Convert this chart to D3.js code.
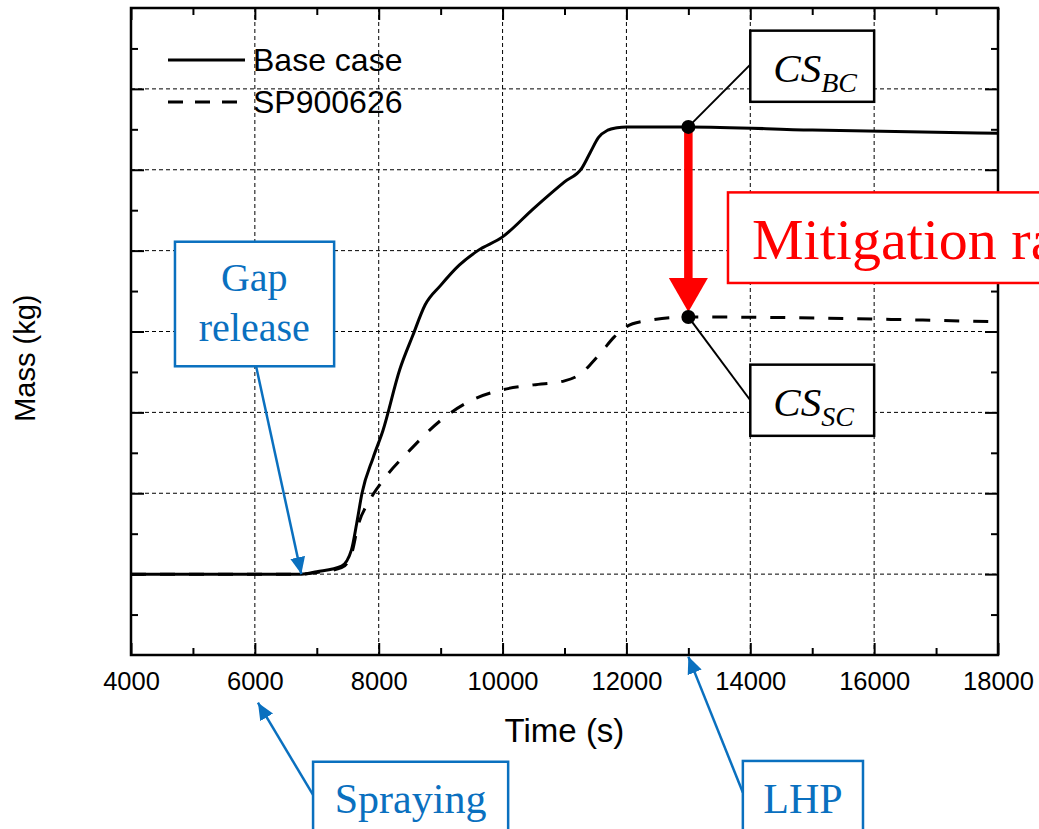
<!DOCTYPE html>
<html>
<head>
<meta charset="utf-8">
<script src="https://cdn.jsdelivr.net/npm/d3@7"></script>
<style>
  body { margin: 0; background: #fff; overflow: hidden; }
  svg { display: block; }
</style>
</head>
<body>
<svg id="chart" width="1039" height="829"></svg>
<script>
// values (mass has no labelled scale, so it is in grid units)
const timeBase = [4000, 6750, 7000, 7400, 7560, 7645, 7730, 7910, 8070, 8340, 8550, 8750, 9000, 9300, 9600, 10000, 10500, 11000, 11280, 11420, 11550, 11700, 11850, 12000, 12500, 13000, 15000, 18000];
const massBase = [1.0, 1.0, 1.03, 1.1, 1.30, 1.63, 2.0, 2.44, 2.78, 3.53, 3.95, 4.33, 4.57, 4.82, 5.0, 5.17, 5.52, 5.85, 6.02, 6.22, 6.40, 6.49, 6.52, 6.53, 6.53, 6.53, 6.49, 6.45];

const timeSP = [4000, 6750, 7000, 7400, 7500, 7580, 7650, 7860, 8070, 8500, 9000, 9500, 10000, 10500, 11000, 11300, 11450, 11600, 11800, 12000, 12300, 13000, 18000];
const massSP = [1.0, 1.0, 1.02, 1.08, 1.15, 1.30, 1.55, 1.92, 2.16, 2.53, 2.9, 3.15, 3.28, 3.34, 3.39, 3.5, 3.62, 3.75, 3.93, 4.06, 4.13, 4.18, 4.12];

const seriesNames = ['Base case', 'SP900626'];
const xTicks = [4000, 6000, 8000, 10000, 12000, 14000, 16000, 18000];
const xMinorTicks = [5000, 7000, 9000, 11000, 13000, 15000, 17000];
const yTicks = [1, 2, 3, 4, 5, 6, 7];
const yMinorTicks = [0.5, 1.5, 2.5, 3.5, 4.5, 5.5, 6.5, 7.5];

// the two compared states at t = 13000 s
const csTime = 13000;
const csBase = 6.53;
const csSP = 4.18;

const margin = { top: 8, right: 41, bottom: 174, left: 131 };
const W = 1039, H = 829;
const width = W - margin.left - margin.right;
const height = H - margin.top - margin.bottom;

const sans = '"Liberation Sans", Arial, sans-serif';
const serif = '"Liberation Serif", "Times New Roman", serif';
const blue = '#0a70bf';
const red = '#ff0000';

const svg = d3.select('#chart');

const x = d3.scaleLinear().domain([4000, 18000]).range([0, width]);
const y = d3.scaleLinear().domain([0, 8]).range([height, 0]);

const chart = svg.append('g')
  .attr('transform', `translate(${margin.left}, ${margin.top})`);

// grid
chart.append('g').selectAll('line')
  .data(xTicks.slice(1, -1))
  .join('line')
  .attr('x1', d => x(d)).attr('x2', d => x(d))
  .attr('y1', 0).attr('y2', height)
  .attr('stroke', '#000').attr('stroke-width', 1)
  .attr('stroke-dasharray', '4,3');

chart.append('g').selectAll('line')
  .data(yTicks)
  .join('line')
  .attr('x1', 0).attr('x2', width)
  .attr('y1', d => y(d)).attr('y2', d => y(d))
  .attr('stroke', '#000').attr('stroke-width', 1)
  .attr('stroke-dasharray', '4,3');

// curves
const line = d3.line()
  .x(d => x(d[0]))
  .y(d => y(d[1]))
  .curve(d3.curveMonotoneX);

chart.append('path')
  .datum(d3.zip(timeBase, massBase))
  .attr('fill', 'none')
  .attr('stroke', '#000')
  .attr('stroke-width', 3)
  .attr('d', line);

chart.append('path')
  .datum(d3.zip(timeSP, massSP))
  .attr('fill', 'none')
  .attr('stroke', '#000')
  .attr('stroke-width', 3)
  .attr('stroke-dasharray', '15,14')
  .attr('d', line);

// legend
const legend = chart.append('g').attr('transform', 'translate(37, 52)');
seriesNames.forEach((name, i) => {
  legend.append('line')
    .attr('x1', 0).attr('x2', 77)
    .attr('y1', i * 42).attr('y2', i * 42)
    .attr('stroke', '#000').attr('stroke-width', 3)
    .attr('stroke-dasharray', i ? '15,12' : null);
  legend.append('text')
    .attr('x', 85).attr('y', i * 42 + 11)
    .attr('font-family', sans).attr('font-size', 32)
    .text(name);
});

// axes: ticks point inward on all four sides
function styleAxis(g) {
  g.select('.domain').remove();
  g.selectAll('.tick line').attr('stroke', '#000').attr('stroke-width', 2);
}

chart.append('g')
  .attr('transform', `translate(0, ${height})`)
  .call(d3.axisBottom(x).tickValues(xTicks).tickSize(-12).tickPadding(17).tickFormat(d3.format('d')))
  .call(styleAxis)
  .call(g => g.selectAll('text').attr('font-family', sans).attr('font-size', 25.5).attr('fill', '#000'));

chart.append('g')
  .attr('transform', `translate(0, ${height})`)
  .call(d3.axisBottom(x).tickValues(xMinorTicks).tickSize(-7).tickFormat(''))
  .call(styleAxis);

chart.append('g')
  .call(d3.axisTop(x).tickValues(xTicks).tickSize(-12).tickFormat(''))
  .call(styleAxis);

chart.append('g')
  .call(d3.axisTop(x).tickValues(xMinorTicks).tickSize(-7).tickFormat(''))
  .call(styleAxis);

chart.append('g')
  .call(d3.axisLeft(y).tickValues(yTicks).tickSize(-13).tickFormat(''))
  .call(styleAxis);

chart.append('g')
  .call(d3.axisLeft(y).tickValues(yMinorTicks).tickSize(-7).tickFormat(''))
  .call(styleAxis);

chart.append('g')
  .attr('transform', `translate(${width}, 0)`)
  .call(d3.axisRight(y).tickValues(yTicks).tickSize(-13).tickFormat(''))
  .call(styleAxis);

chart.append('g')
  .attr('transform', `translate(${width}, 0)`)
  .call(d3.axisRight(y).tickValues(yMinorTicks).tickSize(-7).tickFormat(''))
  .call(styleAxis);

chart.append('rect')
  .attr('width', width).attr('height', height)
  .attr('fill', 'none').attr('stroke', '#000').attr('stroke-width', 2.5);

// axis titles
chart.append('text')
  .attr('x', x(11000)).attr('y', height + 87)
  .attr('text-anchor', 'middle')
  .attr('font-family', sans).attr('font-size', 33)
  .text('Time (s)');

chart.append('text')
  .attr('transform', `translate(${-96}, ${y(3.67)}) rotate(-90)`)
  .attr('text-anchor', 'middle')
  .attr('font-family', sans).attr('font-size', 29)
  .text('Mass (kg)');

// annotations
const defs = svg.append('defs');
defs.append('marker')
  .attr('id', 'blueHead')
  .attr('markerUnits', 'userSpaceOnUse')
  .attr('viewBox', '0 0 17 15')
  .attr('markerWidth', 17).attr('markerHeight', 15)
  .attr('refX', 17).attr('refY', 7.5)
  .attr('orient', 'auto')
  .append('path')
  .attr('d', 'M0,0 L17,7.5 L0,15 Z')
  .attr('fill', blue);

const note = chart.append('g');

function box(x0, y0, x1, y1, color) {
  note.append('rect')
    .attr('x', x(x0)).attr('y', y(y0))
    .attr('width', x(x1) - x(x0)).attr('height', y(y1) - y(y0))
    .attr('fill', '#fff').attr('stroke', color).attr('stroke-width', 2.5);
}

function blueArrow(x0, y0, x1, y1) {
  note.append('line')
    .attr('x1', x(x0)).attr('y1', y(y0))
    .attr('x2', x(x1)).attr('y2', y(y1))
    .attr('stroke', blue).attr('stroke-width', 2.5)
    .attr('marker-end', 'url(#blueHead)');
}

// Gap release
box(4710, 5.11, 7280, 3.57, blue);
note.append('text')
  .attr('x', x(5990)).attr('y', y(3.55) - 77)
  .attr('text-anchor', 'middle')
  .attr('font-family', serif).attr('font-size', 40).attr('fill', blue)
  .text('Gap');
note.append('text')
  .attr('x', x(5990)).attr('y', y(3.55) - 27)
  .attr('text-anchor', 'middle')
  .attr('font-family', serif).attr('font-size', 40).attr('fill', blue)
  .text('release');
blueArrow(6020, 3.57, 6750, 1.0);

// Spraying
box(6940, -1.32, 10090, -2.3, blue);
note.append('text')
  .attr('x', x(8515)).attr('y', y(-1.32) + 51)
  .attr('text-anchor', 'middle')
  .attr('font-family', serif).attr('font-size', 42).attr('fill', blue)
  .text('Spraying');
blueArrow(6940, -1.73, 6050, -0.59);

// LHP
box(13880, -1.31, 15820, -2.3, blue);
note.append('text')
  .attr('x', x(14850)).attr('y', y(-1.31) + 52)
  .attr('text-anchor', 'middle')
  .attr('font-family', serif).attr('font-size', 42).attr('fill', blue)
  .text('LHP');
blueArrow(13880, -1.70, 13000, -0.02);

// red mitigation arrow
const headBase = y(csSP) - 39;
const tip = y(csSP) - 5;
note.append('line')
  .attr('x1', x(csTime)).attr('x2', x(csTime))
  .attr('y1', y(csBase)).attr('y2', headBase + 1)
  .attr('stroke', red).attr('stroke-width', 8.5);
note.append('path')
  .attr('d', `M${x(csTime) - 19.5},${headBase} L${x(csTime) + 19.5},${headBase} L${x(csTime)},${tip} Z`)
  .attr('fill', red);

// mitigation ratio box (runs off the right edge, as in the source figure)
note.append('rect')
  .attr('x', x(13640)).attr('y', y(5.72))
  .attr('width', 400).attr('height', y(4.6) - y(5.72))
  .attr('fill', '#fff').attr('stroke', red).attr('stroke-width', 2.5);
note.append('text')
  .attr('x', x(13640) + 24).attr('y', y(5.72) + 67)
  .attr('font-family', serif).attr('font-size', 58).attr('fill', red)
  .text('Mitigation ratio');

// CS labels
function csLabel(x0, y0, x1, y1, sub, lineY) {
  box(x0, y0, x1, y1, '#000');
  note.append('line')
    .attr('x1', x(x0)).attr('y1', lineY)
    .attr('x2', x(csTime)).attr('y2', sub === 'BC' ? y(csBase) : y(csSP))
    .attr('stroke', '#000').attr('stroke-width', 2);
  const t = note.append('text')
    .attr('x', x(x0) + 23).attr('y', y(y0) + 51)
    .attr('font-family', serif).attr('font-style', 'italic')
    .attr('font-size', 41).attr('fill', '#000');
  t.append('tspan').text('CS');
  t.append('tspan').attr('font-size', 28).attr('dy', 10).text(sub);
}

csLabel(14000, 7.72, 16000, 6.84, 'BC', y(7.3));
csLabel(14000, 3.59, 16000, 2.71, 'SC', y(3.15));

// marked points
note.selectAll('circle')
  .data([csBase, csSP])
  .join('circle')
  .attr('cx', x(csTime)).attr('cy', d => y(d))
  .attr('r', 7).attr('fill', '#000');
</script>
</body>
</html>
